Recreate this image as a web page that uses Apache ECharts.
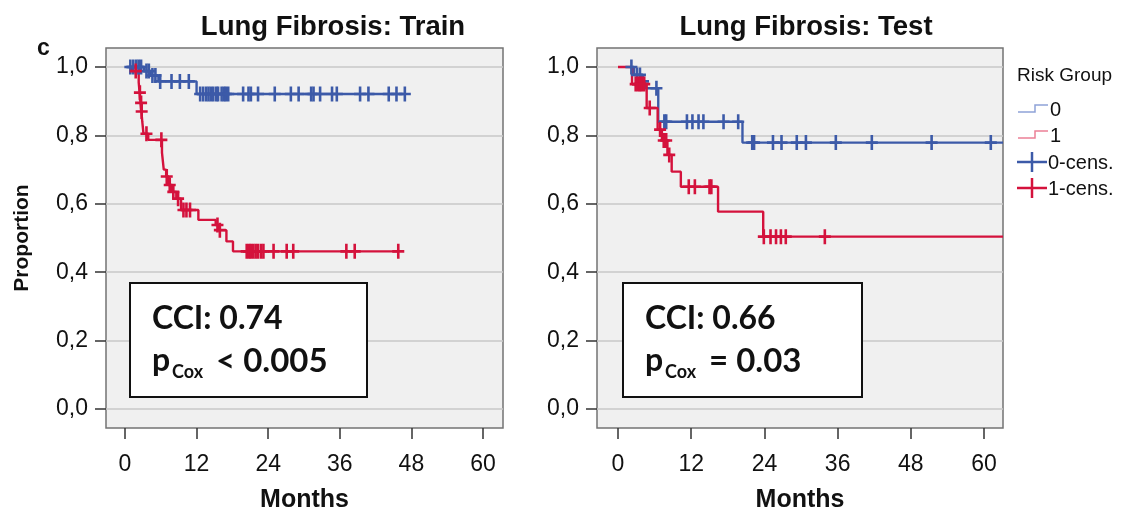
<!DOCTYPE html>
<html><head><meta charset="utf-8">
<script src="https://cdn.jsdelivr.net/npm/echarts@6/dist/echarts.min.js"></script>
<style>html,body{margin:0;padding:0;background:#fff}#c{width:1129px;height:513px}</style>
</head><body><div id="c"></div>
<script>
// ---- axis ticks ----
const xTicks = [0, 12, 24, 36, 48, 60];
const yTicks = [0, 0.2, 0.4, 0.6, 0.8, 1.0];

// ---- Train: risk group 0 (steps: time, survival) ----
const trainG0Time = [0.2, 3.2, 4.3, 5.6, 12.0, 46.9];
const trainG0Surv = [1.0, 0.988, 0.975, 0.958, 0.921, 0.921];
const trainG0Cens = [0.9, 1.4, 1.9, 2.3, 2.7, 3.6, 4.0, 4.6, 5.1, 5.9, 7.8, 9.2, 10.7,
  12.6, 13.1, 13.6, 14.0, 14.4, 14.8, 15.3, 15.6, 16.2, 16.6, 16.9, 17.3, 19.8, 20.7, 21.1,
  22.3, 25.1, 27.8, 29.1, 31.2, 31.6, 32.7, 34.7, 35.5, 39.4, 40.8, 44.2, 45.5, 46.9];

// ---- Train: risk group 1 ----
const trainG1Time = [0.8, 1.2, 2.3, 2.45, 2.6, 2.75, 2.9, 3.1, 3.9, 6.2, 6.5, 6.9, 7.3, 7.9, 8.6, 9.4, 12.3, 15.2, 15.7, 17.0, 18.1, 45.8];
const trainG1Surv = [1.0, 0.988, 0.955, 0.925, 0.895, 0.87, 0.84, 0.805, 0.787, 0.75, 0.70, 0.68, 0.655, 0.635, 0.615, 0.582, 0.553, 0.538, 0.523, 0.49, 0.461, 0.461];
const trainG1Cens = [1.8, 2.5, 2.7, 2.8, 3.6, 6.1, 7.0, 7.5, 8.1, 8.9, 9.8, 10.3, 10.9, 15.5, 15.9,
  20.4, 20.8, 21.1, 21.5, 21.9, 22.3, 22.8, 23.2, 24.9, 27.1, 28.2, 37.1, 38.5, 45.8];

// ---- Test: risk group 0 ----
const testG0Time = [2.0, 2.6, 3.8, 4.4, 6.6, 20.4, 63.1];
const testG0Surv = [1.0, 0.977, 0.958, 0.938, 0.84, 0.779, 0.779];
const testG0Cens = [2.2, 3.1, 3.6, 4.1, 6.3, 7.6, 7.9, 11.3, 12.2, 13.2, 14.0, 17.3, 19.7,
  22.0, 22.3, 25.4, 26.8, 29.3, 30.8, 35.7, 41.6, 51.4, 61.1];

// ---- Test: risk group 1 ----
const testG1Time = [0, 2.3, 4.7, 6.5, 7.2, 8.1, 8.8, 10.3, 16.4, 23.8, 63.1];
const testG1Surv = [1.0, 0.95, 0.88, 0.817, 0.785, 0.743, 0.694, 0.65, 0.577, 0.504, 0.504];
const testG1Cens = [2.9, 3.3, 3.6, 3.9, 4.3, 5.2, 6.9, 7.5, 7.9, 8.4, 11.6, 12.6, 15.0, 15.3,
  23.9, 25.0, 25.9, 26.7, 27.5, 33.9];

const BLUE = '#3c5aa8', RED = '#d4123c';
const BLUE_L = '#8ea2d8', RED_L = '#ec8097';
const FONT = '"Liberation Sans", Arial, sans-serif';
const PLUS = 'path://M4.7,0H7.3V6.2H12V8.8H7.3V15H4.7V8.8H0V6.2H4.7Z';

function pairs(t, s) { return t.map((v, i) => [v, s[i]]); }
function levelAt(t, s, x) { let v = s[0]; for (let i = 0; i < t.length; i++) if (t[i] <= x) v = s[i]; return v; }
function cens(c, t, s) { return c.map(x => [x, levelAt(t, s, x)]); }

function lineSeries(name, idx, t, s, color) {
  return { name, type: 'line', step: 'end', xAxisIndex: idx, yAxisIndex: idx, data: pairs(t, s),
    showSymbol: false, symbol: 'none', lineStyle: { color, width: 2.4 }, itemStyle: { color }, z: 3, animation: false };
}
function censSeries(name, idx, c, t, s, color) {
  return { name, type: 'scatter', xAxisIndex: idx, yAxisIndex: idx, data: cens(c, t, s),
    symbol: PLUS, symbolSize: [12, 15], itemStyle: { color, opacity: 1 }, z: 4, animation: false };
}
function xAxis(idx, min, max) {
  return { type: 'value', gridIndex: idx, min, max,
    axisLine: { show: false, onZero: false },
    axisTick: { show: true, customValues: xTicks, length: 11, lineStyle: { color: '#333', width: 1.5 } },
    axisLabel: { customValues: xTicks, margin: 25, fontSize: 23, color: '#111', fontFamily: FONT },
    splitLine: { show: false },
    name: 'Months', nameLocation: 'middle', nameGap: 60,
    nameTextStyle: { fontWeight: 'bold', fontSize: 25, color: '#111', fontFamily: FONT } };
}
function yAxis(idx, withName) {
  const a = { type: 'value', gridIndex: idx, min: -0.0556, max: 1.0556,
    axisLine: { show: false, onZero: false },
    axisTick: { show: true, customValues: yTicks, length: 11, lineStyle: { color: '#333', width: 1.5 } },
    axisLabel: { customValues: yTicks, margin: 18, fontSize: 23, color: '#111', fontFamily: FONT,
      formatter: v => v.toFixed(1).replace('.', ',') },
    splitLine: { show: true, lineStyle: { color: '#c9c9c9', width: 1.5 } } };
  if (withName) Object.assign(a, { name: 'Proportion', nameLocation: 'middle', nameGap: 73,
    nameTextStyle: { fontWeight: 'bold', fontSize: 21, color: '#111', fontFamily: FONT } });
  return a;
}

function txt(x, y, text, size, opts) {
  return Object.assign({ type: 'text', x, y, z: 10, style: Object.assign({ text, fontSize: size, fontFamily: FONT,
    fill: '#111', textAlign: 'left', textVerticalAlign: 'middle' }, (opts && opts.style) || {}) }, opts && opts.extra || {});
}
function box(x, y, w, h) {
  return { type: 'rect', z: 9, shape: { x, y, width: w, height: h }, style: { fill: '#fff', stroke: '#111', lineWidth: 2 } };
}
const CAL = 'Lato, "Open Sans", sans-serif';
function stat(x0, cci, rest) {
  return [
    txt(x0, 319, 'CCI: ' + cci, 32, { style: { fontWeight: 'bold', fontFamily: CAL } }),
    txt(x0, 361, 'p', 32, { style: { fontWeight: 'bold', fontFamily: CAL } }),
    txt(x0 + 20, 372, 'Cox', 18, { style: { fontWeight: 'bold', fontFamily: CAL } }),
    txt(x0 + 64, 361, rest, 33, { style: { fontWeight: 'bold', fontFamily: CAL } })
  ];
}
function pl(points, color, w) {
  return { type: 'polyline', z: 10, shape: { points }, style: { stroke: color, lineWidth: w, fill: null } };
}

const chart = echarts.init(document.getElementById('c'), null, { renderer: 'canvas' });
chart.setOption({
  animation: false,
  backgroundColor: '#fff',
  grid: [
    { left: 106, top: 48, width: 397, height: 380, outerBoundsMode: 'none', containLabel: false, show: true, backgroundColor: '#f0f0f0', borderColor: '#737373', borderWidth: 1.5 },
    { left: 597, top: 48, width: 406, height: 380, outerBoundsMode: 'none', containLabel: false, show: true, backgroundColor: '#f0f0f0', borderColor: '#737373', borderWidth: 1.5 }
  ],
  xAxis: [xAxis(0, -3.18, 63.35), xAxis(1, -3.44, 63.1)],
  yAxis: [yAxis(0, true), yAxis(1, false)],
  series: [
    lineSeries('0', 0, trainG0Time, trainG0Surv, BLUE),
    lineSeries('1', 0, trainG1Time, trainG1Surv, RED),
    censSeries('0-cens.', 0, trainG0Cens, trainG0Time, trainG0Surv, BLUE),
    censSeries('1-cens.', 0, trainG1Cens, trainG1Time, trainG1Surv, RED),
    lineSeries('0', 1, testG0Time, testG0Surv, BLUE),
    lineSeries('1', 1, testG1Time, testG1Surv, RED),
    censSeries('0-cens.', 1, testG0Cens, testG0Time, testG0Surv, BLUE),
    censSeries('1-cens.', 1, testG1Cens, testG1Time, testG1Surv, RED)
  ],
  graphic: [
    txt(333, 27, 'Lung Fibrosis: Train', 27.5, { style: { fontWeight: 'bold', textAlign: 'center' } }),
    txt(806, 27, 'Lung Fibrosis: Test', 27.5, { style: { fontWeight: 'bold', textAlign: 'center' } }),
    txt(37, 49, 'c', 23, { style: { fontWeight: 'bold' } }),
    box(130, 283, 237, 114),
    ...stat(152, '0.74', '< 0.005'),
    box(623, 283, 239, 114),
    ...stat(645, '0.66', '= 0.03'),
    txt(1017, 76, 'Risk Group', 19),
    pl([[1018, 112], [1035, 112], [1035, 105], [1048, 105]], BLUE_L, 1.5),
    txt(1050, 110, '0', 20),
    pl([[1018, 138], [1035, 138], [1035, 131], [1048, 131]], RED_L, 1.5),
    txt(1050, 136, '1', 20),
    pl([[1017, 162], [1047, 162]], BLUE, 2.5), pl([[1032, 152], [1032, 172]], BLUE, 2.5),
    txt(1048, 163, '0-cens.', 20),
    pl([[1017, 188], [1047, 188]], RED, 2.5), pl([[1032, 178], [1032, 198]], RED, 2.5),
    txt(1048, 189, '1-cens.', 20)
  ]
});
</script></body></html>
